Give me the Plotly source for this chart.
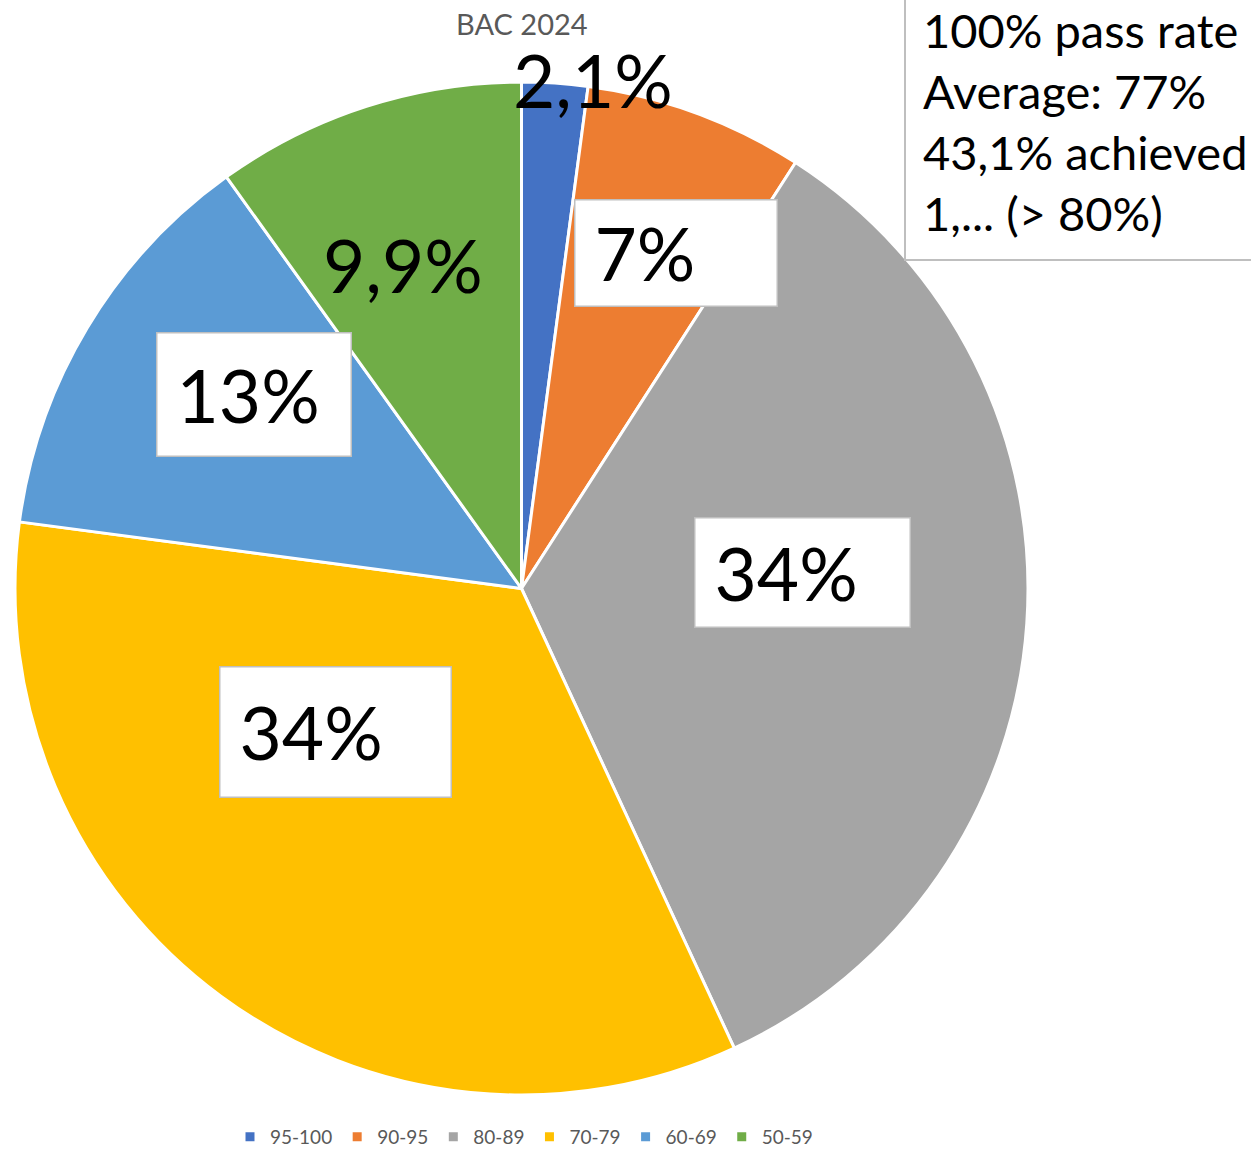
import plotly.graph_objects as go

W, H = 1251, 1156

categories = ["95-100", "90-95", "80-89", "70-79", "60-69", "50-59"]
values = [2.1, 7, 34, 34, 13, 9.9]
label_texts = ["2,1%", "7%", "34%", "34%", "13%", "9,9%"]
colors = ["#4472C4", "#ED7D31", "#A5A5A5", "#FFC000", "#5B9BD5", "#70AD47"]
title_text = "BAC 2024"
note_lines = ["100% pass rate", "Average: 77%", "43,1% achieved", "1,... (> 80%)"]

# label box layout in pixels: (center x, center y, box w, box h, boxed)
label_boxes = [
    (593, 80, 0, 0, False),
    (676, 253, 203, 107, True),
    (802, 572, 216, 110, True),
    (335, 732, 232, 131, True),
    (254, 395, 195, 124, True),
    (403, 265, 0, 0, False),
]

def px(x):
    return x / W

def py(y):
    return 1 - y / H

FONT = "Lato"

fig = go.Figure(go.Pie(
    labels=categories,
    values=values,
    sort=False,
    direction="clockwise",
    rotation=0,
    textinfo="none",
    hoverinfo="label+percent",
    marker=dict(colors=colors, line=dict(color="white", width=3)),
    domain=dict(x=[px(15), px(1028)], y=[py(1095), py(82)]),
))

annotations = [dict(
    x=px(522), y=py(23), xref="paper", yref="paper", text=title_text,
    showarrow=False, font=dict(family=FONT, size=29, color="#595959"),
    xanchor="center", yanchor="middle",
)]

pad = 20
for t, (cx, cy, bw, bh, boxed) in zip(label_texts, label_boxes):
    a = dict(x=px(cx), y=py(cy), xref="paper", yref="paper", text=t,
             showarrow=False, font=dict(family=FONT, size=73, color="black"),
             xanchor="center", yanchor="middle")
    if boxed:
        a.update(width=bw - 2 * pad, height=bh - 2 * pad, align="left",
                 bgcolor="white", bordercolor="#BFBFBF", borderwidth=1.5,
                 borderpad=pad - 1, valign="middle")
    annotations.append(a)

annotations.append(dict(
    x=px(921), y=py(122), xref="paper", yref="paper",
    text="<br>".join(note_lines), showarrow=False, align="left",
    xanchor="left", yanchor="middle",
    font=dict(family=FONT, size=47, color="black"),
))

shapes = [dict(type="rect", xref="paper", yref="paper",
               x0=px(905), x1=px(1270), y0=py(260), y1=py(-20),
               fillcolor="white", line=dict(color="#BFBFBF", width=2),
               layer="above")]

fig.update_layout(
    width=W, height=H,
    margin=dict(l=0, r=0, t=0, b=0, autoexpand=False),
    paper_bgcolor="white",
    showlegend=True,
    legend=dict(orientation="h", x=px(524), xanchor="center",
                y=0, yanchor="bottom",
                font=dict(family=FONT, size=19, color="#595959"),
                itemwidth=30, traceorder="normal"),
    annotations=annotations,
    shapes=shapes,
)

fig.write_html("out.html", config={"displayModeBar": False},
               post_script="document.body.style.margin='0';document.body.style.overflow='hidden';")
